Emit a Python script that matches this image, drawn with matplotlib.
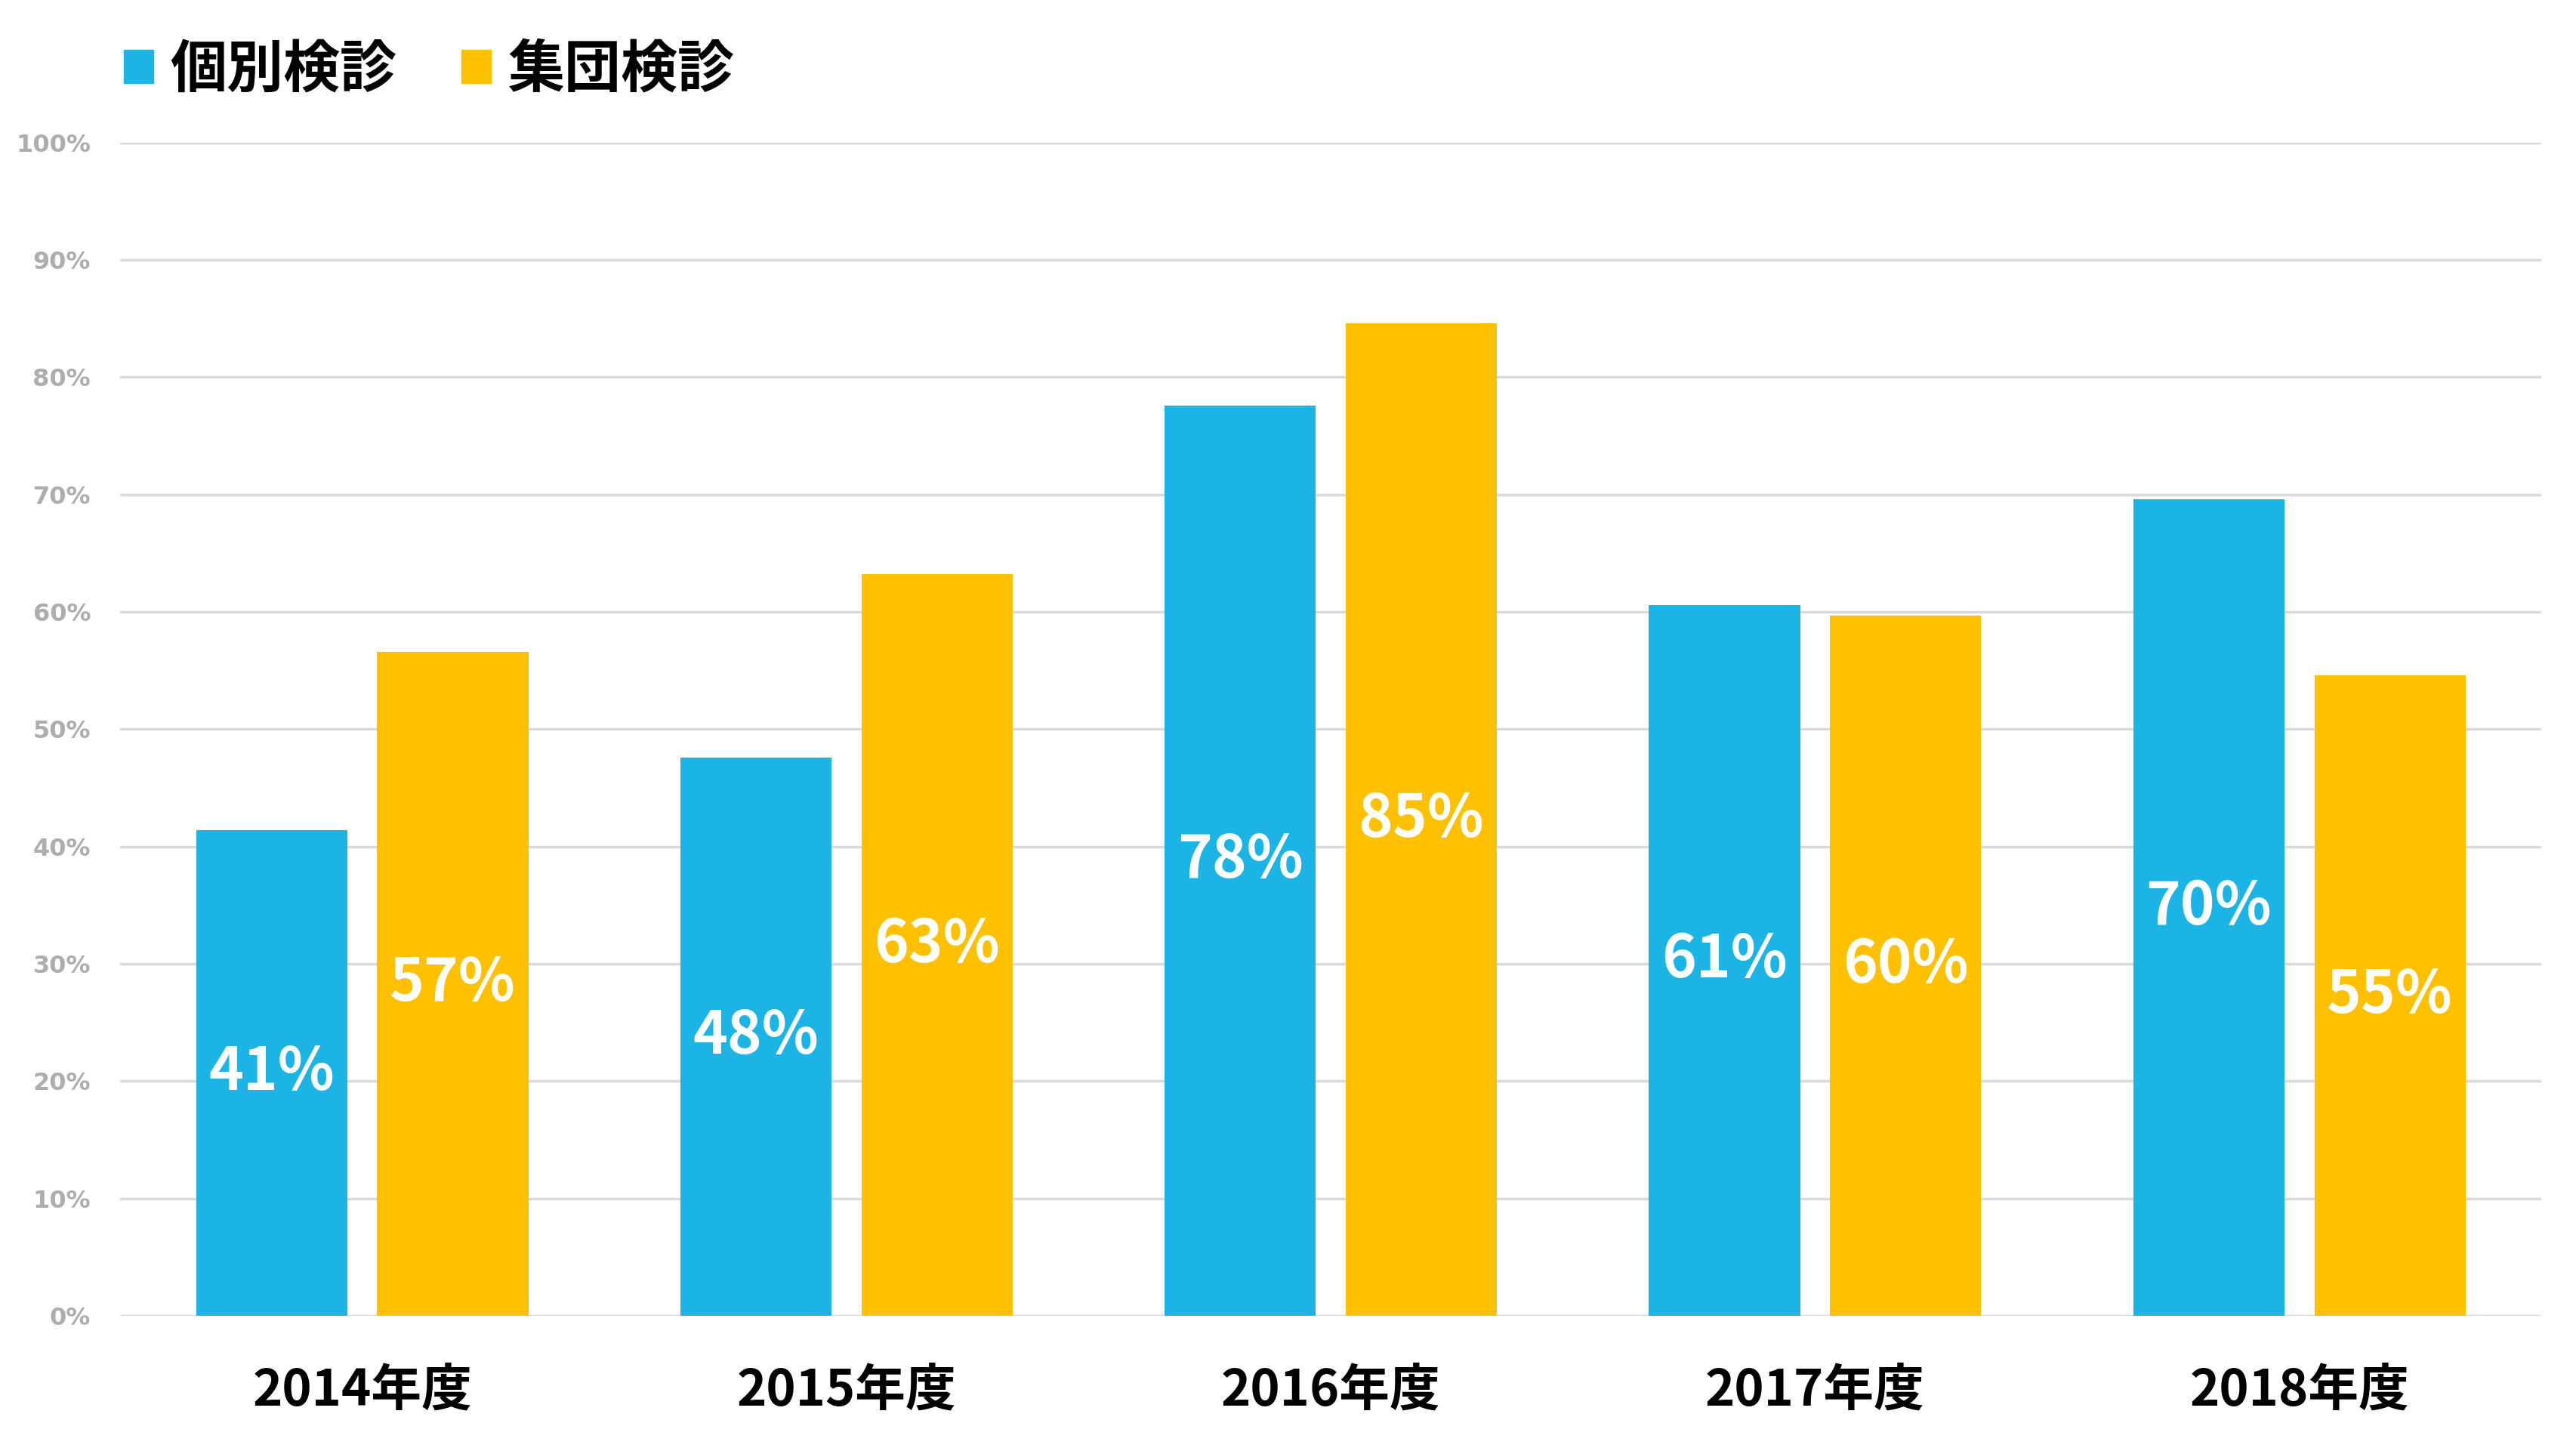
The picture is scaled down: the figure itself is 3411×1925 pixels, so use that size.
import numpy as np
import matplotlib
matplotlib.use("Agg")
import matplotlib.pyplot as plt
from matplotlib.patches import Patch

plt.rcParams['font.family'] = ['Noto Sans CJK JP', 'DejaVu Sans']

# data
years = ['2014年度', '2015年度', '2016年度', '2017年度', '2018年度']
kobetsu = [41.4, 47.6, 77.6, 60.6, 69.6]   # 個別検診
shudan = [56.6, 63.2, 84.6, 59.7, 54.6]    # 集団検診
series_names = ['個別検診', '集団検診']
yticks = [0, 10, 20, 30, 40, 50, 60, 70, 80, 90, 100]

blue = '#1BB4E4'
orange = '#FFC000'

fig = plt.figure(figsize=(34.11, 19.25), dpi=100)
ax = fig.add_axes([0.0466, 0.095, 0.94, 0.807])

x = np.arange(len(years))
w = 0.312
off = 0.187

b1 = ax.bar(x - off, kobetsu, w, color=blue, zorder=3)
b2 = ax.bar(x + off, shudan, w, color=orange, zorder=3)

# value labels in the middle of each bar
for bars, vals in [(b1, kobetsu), (b2, shudan)]:
    ax.bar_label(bars, labels=[f'{round(v)}%' for v in vals], label_type='center',
                 color='white', fontsize=56, fontweight='bold')

ax.set_xlim(-0.5, len(years) - 0.5)
ax.set_ylim(0, 100)
ax.set_yticks(yticks)
ax.set_yticklabels([f'{t}%' for t in yticks], family='DejaVu Sans',
                   fontsize=23, fontweight='bold', color='#adadad')
ax.set_xticks(x)
ax.set_xticklabels(years, fontsize=48, fontweight='bold')
ax.tick_params(axis='x', length=0, pad=47)
ax.tick_params(axis='y', length=0, pad=28)

ax.grid(axis='y', color='#d9d9d9', linewidth=2.5, zorder=0)
for s in ax.spines.values():
    s.set_visible(False)

handles = [Patch(color=blue), Patch(color=orange)]
fig.legend(handles, series_names, loc='center left', bbox_to_anchor=(0.048, 0.952),
           ncol=2, frameon=False, borderpad=0, borderaxespad=0,
           handlelength=0.52, handleheight=0.52, handletextpad=0.3, columnspacing=1.15,
           prop={'size': 54, 'weight': 'bold'})

plt.savefig('out.png', dpi=100)
